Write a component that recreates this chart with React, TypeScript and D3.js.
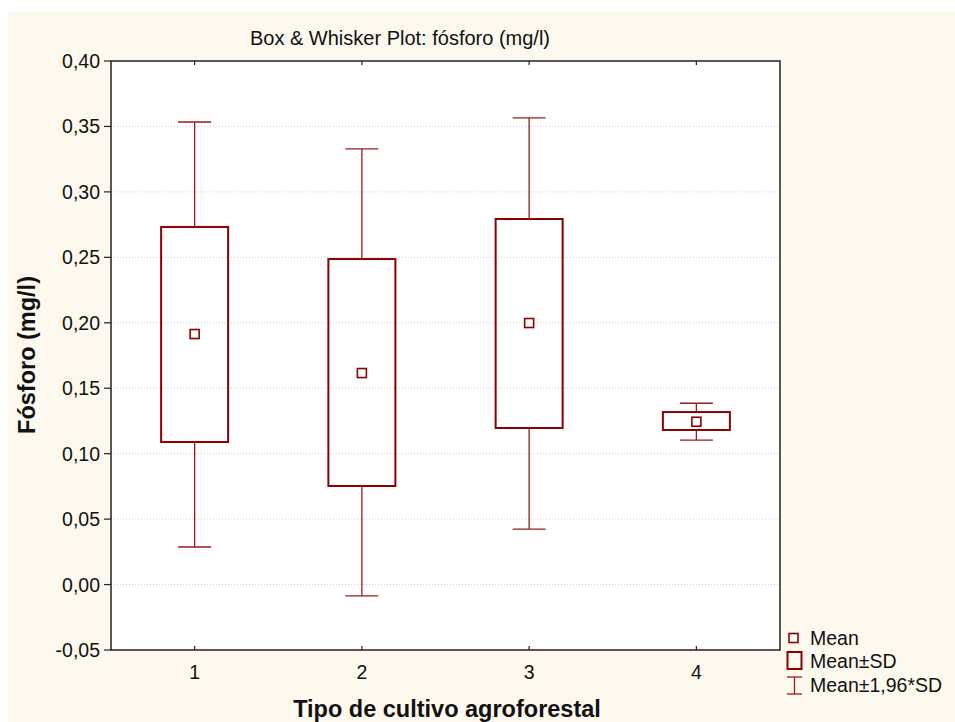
import React from "react";
import * as d3 from "d3";

const categories = ["1", "2", "3", "4"];
const means = [0.1914, 0.1616, 0.1998, 0.1244];
const sdLow = [0.1089, 0.0753, 0.1196, 0.1181];
const sdHigh = [0.2732, 0.2487, 0.2793, 0.1318];
const ciLow = [0.0287, -0.0087, 0.0424, 0.1104];
const ciHigh = [0.3534, 0.3328, 0.3565, 0.1385];
const yTicks = [-0.05, 0, 0.05, 0.1, 0.15, 0.2, 0.25, 0.3, 0.35, 0.4];
const legendLabels = ["Mean", "Mean±SD", "Mean±1,96*SD"];

const W = 955;
const H = 722;
const M = { left: 111, top: 61, right: 780, bottom: 650 };
const RED = "#8b0000";
const WRED = "#9a1b1b";
const FONT = "Arial, 'Liberation Sans', sans-serif";

export default function App() {
  const x = d3.scaleLinear().domain([0.5, 4.5]).range([M.left, M.right]);
  const y = d3.scaleLinear().domain([-0.05, 0.4]).range([M.bottom, M.top]);
  const fmt = (v: number) => {
    const s = Math.abs(v).toFixed(2).replace(".", ",");
    return v < -1e-9 ? "-" + s : s;
  };
  const boxW = 67;
  const capW = 33;
  const mk = 9;

  return (
    <svg width={W} height={H} style={{ position: "absolute", left: 0, top: 0 }}>
      <rect x={8} y={12} width={W - 8} height={H - 12} fill="#fdf9ee" />
      <rect x={M.left} y={M.top} width={M.right - M.left} height={M.bottom - M.top} fill="#ffffff" />
      {yTicks.map((t, i) => (
        <g key={i}>
          {i > 0 && i < yTicks.length - 1 && (
            <line x1={M.left} x2={M.right} y1={y(t)} y2={y(t)} stroke="#d0d0d0" strokeWidth={1} strokeDasharray="1,2" />
          )}
          <line x1={M.left - 7} x2={M.left} y1={y(t)} y2={y(t)} stroke="#222" strokeWidth={1.2} />
          <text x={100} y={y(t)} dy="0.36em" textAnchor="end" fontFamily={FONT} fontSize={19.5} fill="#111">
            {fmt(t)}
          </text>
        </g>
      ))}
      {categories.map((c, i) => (
        <g key={c}>
          <line x1={x(i + 1)} x2={x(i + 1)} y1={M.top} y2={M.top + 4} stroke="#222" strokeWidth={1.2} />
          <line x1={x(i + 1)} x2={x(i + 1)} y1={M.bottom} y2={M.bottom - 4} stroke="#222" strokeWidth={1.2} />
          <text x={x(i + 1)} y={679} textAnchor="middle" fontFamily={FONT} fontSize={19.5} fill="#111">
            {c}
          </text>
        </g>
      ))}
      <rect x={M.left} y={M.top} width={M.right - M.left} height={M.bottom - M.top} fill="none" stroke="#222" strokeWidth={1.5} />
      {categories.map((c, i) => {
        const cx = x(i + 1);
        return (
          <g key={"b" + c}>
            <line x1={cx} x2={cx} y1={y(ciHigh[i])} y2={y(sdHigh[i])} stroke={WRED} strokeWidth={1.3} />
            <line x1={cx} x2={cx} y1={y(sdLow[i])} y2={y(ciLow[i])} stroke={WRED} strokeWidth={1.3} />
            <line x1={cx - capW / 2} x2={cx + capW / 2} y1={y(ciHigh[i])} y2={y(ciHigh[i])} stroke={WRED} strokeWidth={1.3} />
            <line x1={cx - capW / 2} x2={cx + capW / 2} y1={y(ciLow[i])} y2={y(ciLow[i])} stroke={WRED} strokeWidth={1.3} />
            <rect x={cx - boxW / 2} y={y(sdHigh[i])} width={boxW} height={y(sdLow[i]) - y(sdHigh[i])} fill="none" stroke={RED} strokeWidth={2} />
            <rect x={cx - mk / 2} y={y(means[i]) - mk / 2} width={mk} height={mk} fill="#fff" stroke={RED} strokeWidth={1.6} />
          </g>
        );
      })}
      <text x={400} y={45} textAnchor="middle" fontFamily={FONT} fontSize={20} fill="#111">
        Box &amp; Whisker Plot: fósforo (mg/l)
      </text>
      <text transform="translate(35,355) rotate(-90)" textAnchor="middle" fontFamily={FONT} fontSize={23.5} fontWeight="bold" fill="#111">
        Fósforo (mg/l)
      </text>
      <text x={447} y={717} textAnchor="middle" fontFamily={FONT} fontSize={23.5} fontWeight="bold" fill="#111">
        Tipo de cultivo agroforestal
      </text>
      <g>
        <rect x={789} y={633.5} width={9} height={9} fill="#fff" stroke={RED} strokeWidth={1.6} />
        <rect x={787.5} y={652} width={14} height={17} fill="none" stroke={RED} strokeWidth={2} />
        <line x1={787} x2={802} y1={677} y2={677} stroke={WRED} strokeWidth={1.3} />
        <line x1={787} x2={802} y1={694} y2={694} stroke={WRED} strokeWidth={1.3} />
        <line x1={794.5} x2={794.5} y1={677} y2={694} stroke={WRED} strokeWidth={1.3} />
        {legendLabels.map((l, i) => (
          <text key={l} x={810} y={645 + i * 23.3} fontFamily={FONT} fontSize={19.5} fill="#111">
            {l}
          </text>
        ))}
      </g>
    </svg>
  );
}
